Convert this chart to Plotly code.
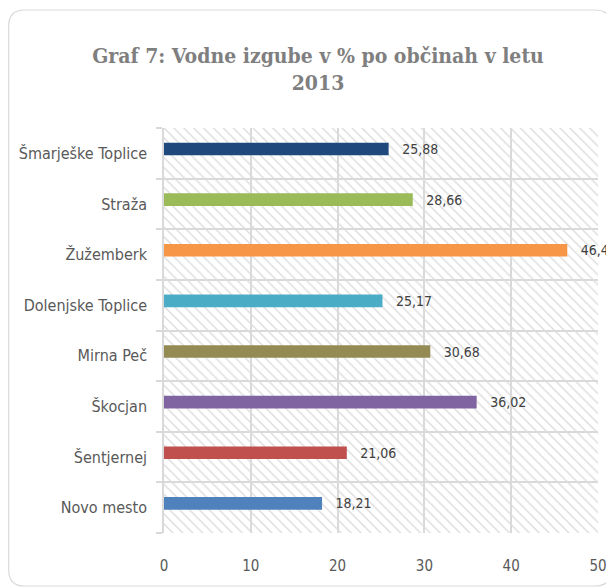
import plotly.graph_objects as go

# ---- data (bottom to top) ----
categories = ["Novo mesto", "Šentjernej", "Škocjan", "Mirna Peč",
              "Dolenjske Toplice", "Žužemberk", "Straža", "Šmarješke Toplice"]
values = [18.21, 21.06, 36.02, 30.68, 25.17, 46.46, 28.66, 25.88]
value_labels = ["18,21", "21,06", "36,02", "30,68", "25,17", "46,46", "28,66", "25,88"]
bar_colors = ["#4F81BD", "#C0504D", "#8064A2", "#948A54",
              "#4BACC6", "#F79646", "#9BBB59", "#1F497D"]
x_ticks = [0, 10, 20, 30, 40, 50]
x_max = 50
title_text = "Graf 7: Vodne izgube v % po občinah v letu<br>2013"

# page body has an 8px margin, so the figure is shifted by 8px
OFF = 8
W, H = 614, 587 - OFF
ML, MT, MB = 164 - OFF, 128 - OFF, 54
MR = W - (598 - OFF)
PW, PH = W - ML - MR, H - MT - MB

FONT = "DejaVu Sans Condensed, Liberation Sans Narrow, sans-serif"

fig = go.Figure()

# hatched plot-area background
fig.add_trace(go.Bar(
    y=categories, x=[x_max] * len(categories), orientation="h",
    width=1, marker=dict(color="rgba(0,0,0,0)", line=dict(width=0),
                         pattern=dict(shape="\\", fgcolor="#dcdcdc", bgcolor="rgba(0,0,0,0)",
                                      size=7, solidity=0.2, fillmode="replace")),
    hoverinfo="skip", showlegend=False))

fig.add_trace(go.Bar(
    y=categories, x=values, orientation="h",
    width=0.25, offset=-0.04,
    marker=dict(color=bar_colors, line=dict(width=0)),
    text=["\u00a0\u00a0\u2009" + t for t in value_labels], textposition="outside",
    cliponaxis=False, constraintext="none",
    textfont=dict(family=FONT, size=14, color="#404040"),
    showlegend=False))

def px2paper(X, Y):
    # X, Y in reference-window pixels
    return (X - OFF - ML) / PW, (H - MB - (Y - OFF)) / PH

def rounded_rect(x0, y0, x1, y1, r):
    def P(X, Y):
        a, b = px2paper(X, Y)
        return f"{a:.5f},{b:.5f}"
    return (f"M {P(x0 + r, y0)} L {P(x1 - r, y0)} Q {P(x1, y0)} {P(x1, y0 + r)} "
            f"L {P(x1, y1 - r)} Q {P(x1, y1)} {P(x1 - r, y1)} "
            f"L {P(x0 + r, y1)} Q {P(x0, y1)} {P(x0, y1 - r)} "
            f"L {P(x0, y0 + r)} Q {P(x0, y0)} {P(x0 + r, y0)} Z")

fig.add_shape(type="path", xref="paper", yref="paper",
              path=rounded_rect(8.7, 10, 611, 586, 16),
              line=dict(color="#d9d9d9", width=1.2), layer="below")

fig.update_layout(
    width=W, height=H,
    margin=dict(l=ML, r=MR, t=MT, b=MB, pad=0, autoexpand=False),
    paper_bgcolor="white", plot_bgcolor="white",
    barmode="overlay", showlegend=False,
    title=dict(text=title_text, x=(318 - OFF) / W, xref="container", xanchor="center",
               y=1 - 55 / H, yref="container", yanchor="middle",
               font=dict(family="DejaVu Serif Condensed, DejaVu Serif, serif",
                         size=21, color="#7f7f7f", weight="bold")),
    xaxis=dict(range=[0, x_max], tickvals=x_ticks, ticktext=[str(t) for t in x_ticks],
               showgrid=True, gridcolor="#d9d9d9", gridwidth=1.5,
               zeroline=False, showline=False, ticks="", automargin=False,
               tickfont=dict(family=FONT, size=15, color="#595959"),
               ticklabelstandoff=22),
    yaxis=dict(type="category", categoryorder="array", categoryarray=categories,
               tickson="boundaries", showgrid=True, gridcolor="#d9d9d9", gridwidth=1.5,
               showline=True, linecolor="#d9d9d9", linewidth=1.5, automargin=False,
               ticks="outside", ticklen=6, tickcolor="#d9d9d9", tickwidth=1.5,
               tickfont=dict(family=FONT, size=16, color="#595959"),
               ticklabelstandoff=12),
)

fig.write_html("out.html")
